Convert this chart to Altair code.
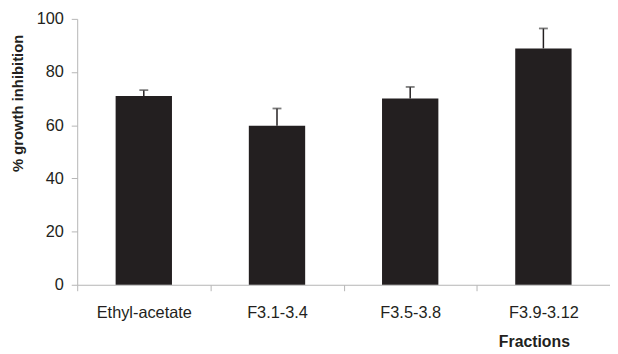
import altair as alt
import pandas as pd

categories = ["Ethyl-acetate", "F3.1-3.4", "F3.5-3.8", "F3.9-3.12"]
means = [71.0, 59.8, 70.1, 88.9]
upper = [73.2, 66.3, 74.4, 96.4]

df = pd.DataFrame({"cat": categories, "mean": means, "upper": upper})

dark = "#231f20"
axis_gray = "#b5b5b5"

x = alt.X("cat:N", sort=categories,
          scale=alt.Scale(paddingInner=0, paddingOuter=0),
          axis=alt.Axis(title="Fractions", labelAngle=0, tickBand="extent",
                        labelFontSize=16.5, labelFont="Liberation Sans", labelColor=dark,
                        labelPadding=14, tickSize=6, tickColor=axis_gray, domainColor=axis_gray,
                        titleFont="Liberation Sans", titleFontSize=16, titleFontWeight="bold",
                        titleColor=dark, titleX=462, titleY=57, titleAlign="center",
                        titleBaseline="middle"))

y_axis = alt.Axis(title="% growth inhibition", values=[0, 20, 40, 60, 80, 100], grid=False,
                  labelFontSize=16.5, labelFont="Liberation Sans", labelColor=dark,
                  labelPadding=8, tickSize=6, tickColor=axis_gray, domainColor=axis_gray,
                  titleFont="Liberation Sans", titleFontSize=15, titleFontWeight="bold",
                  titleColor=dark, titleX=-60, titleY=85, titleAngle=-90,
                  titleAlign="center", titleBaseline="middle")

base = alt.Chart(df)

bars = base.mark_bar(color=dark, size=57).encode(
    x=x,
    y=alt.Y("mean:Q", scale=alt.Scale(domain=[0, 100], nice=False), axis=y_axis),
)

stems = base.mark_rule(color=dark, strokeWidth=1.5).encode(
    x=alt.X("cat:N", sort=categories),
    y="mean:Q",
    y2="upper:Q",
)

caps = base.mark_tick(color="#444444", size=9, thickness=1.8).encode(
    x=alt.X("cat:N", sort=categories),
    y="upper:Q",
)

chart = alt.layer(bars, stems, caps).properties(
    width=539, height=269,
    padding={"left": 70, "top": 9, "right": 0, "bottom": 66},
    autosize=alt.AutoSizeParams(type="none"),
).configure_view(stroke=None)

chart.save("out.html", embed_options={"renderer": "svg", "actions": False})
